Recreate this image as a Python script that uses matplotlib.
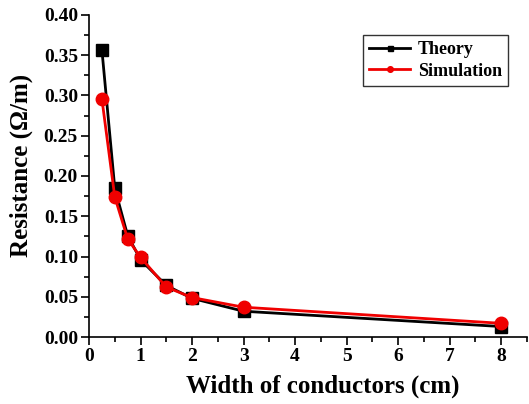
import matplotlib
matplotlib.use("Agg")
import matplotlib.pyplot as plt
from matplotlib.ticker import MultipleLocator

width_cm = [0.25, 0.5, 0.75, 1.0, 1.5, 2.0, 3.0, 8.0]
theory = [0.357, 0.185, 0.126, 0.096, 0.064, 0.048, 0.032, 0.013]
simulation = [0.296, 0.174, 0.122, 0.099, 0.062, 0.049, 0.037, 0.017]
series_names = ["Theory", "Simulation"]
x_label = "Width of conductors (cm)"
y_label = "Resistance (\u03a9/m)"

plt.rcParams['font.family'] = ['Liberation Serif', 'DejaVu Serif']
plt.rcParams['font.weight'] = 'bold'

fig = plt.figure(figsize=(5.29, 4.04), dpi=100)
ax = fig.add_axes([89/529, 1 - 337/404, (527 - 89)/529, (337 - 15)/404])

ax.plot(width_cm, theory, color='black', marker='s', markersize=8, linewidth=2,
        label=series_names[0], zorder=2)
ax.plot(width_cm, simulation, color='#f00000', marker='o', markersize=9, linewidth=2,
        label=series_names[1], zorder=3)

ax.set_xlim(0, 8.5)
ax.set_ylim(0, 0.40)
ax.xaxis.set_major_locator(MultipleLocator(1))
ax.xaxis.set_minor_locator(MultipleLocator(0.5))
ax.yaxis.set_major_locator(MultipleLocator(0.05))
ax.yaxis.set_minor_locator(MultipleLocator(0.025))
ax.yaxis.set_major_formatter(plt.FormatStrFormatter('%.2f'))

for s in ['top', 'right']:
    ax.spines[s].set_visible(False)
for s in ['left', 'bottom']:
    ax.spines[s].set_linewidth(1.2)

ax.tick_params(which='major', direction='out', length=6, width=1.2, labelsize=14, pad=2)
ax.tick_params(which='minor', direction='out', length=3.5, width=1.2)
for lab in ax.get_xticklabels() + ax.get_yticklabels():
    lab.set_fontweight('bold')

ax.set_xlabel(x_label, fontsize=18, fontweight='bold')
ax.set_ylabel(y_label, fontsize=18, fontweight='bold')
ax.xaxis.set_label_coords(0.534, -0.118)
ax.yaxis.set_label_coords(-0.128, 0.534)

leg = ax.legend(loc='upper right', bbox_to_anchor=(0.957, 0.938), borderaxespad=0,
                prop={'weight': 'bold', 'size': 13}, frameon=True, fancybox=False,
                edgecolor='black', markerscale=0.45, handlelength=2.3,
                borderpad=0.35, labelspacing=0.25, handletextpad=0.4)
leg.get_frame().set_linewidth(1.0)

fig.savefig("out.png", dpi=100)
